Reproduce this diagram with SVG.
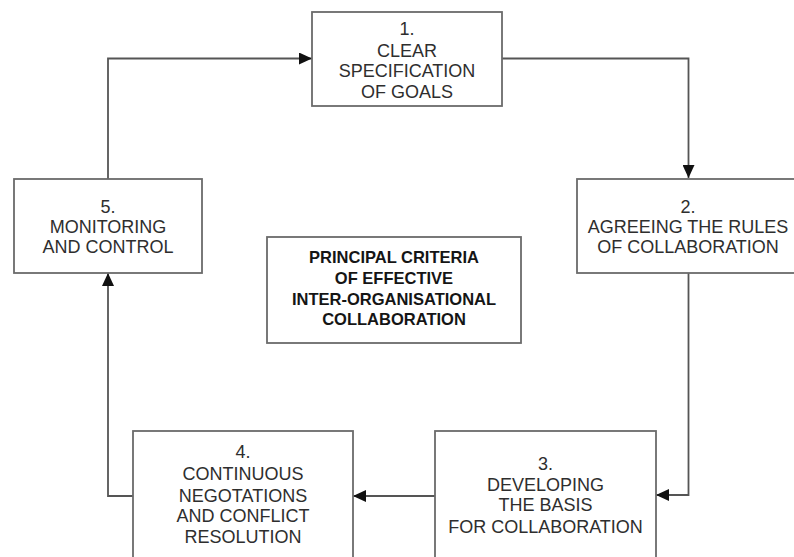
<svg xmlns="http://www.w3.org/2000/svg" width="794" height="557" viewBox="0 0 794 557">
<style>
.box{fill:#fff;stroke:#6b6b6b;stroke-width:1.8}
.t{font-family:"Liberation Sans",Arial,sans-serif;font-size:18px;fill:#2e2e2e;text-anchor:middle}
.b{font-family:"Liberation Sans",Arial,sans-serif;font-size:16.5px;font-weight:bold;fill:#151515;text-anchor:middle}
.c{fill:none;stroke:#555;stroke-width:1.8}
</style>
<defs>
<marker id="ah" markerWidth="13" markerHeight="12" refX="13" refY="6" orient="auto" markerUnits="userSpaceOnUse">
<path d="M0,0 L13,6 L0,12 Z" fill="#111"/>
</marker>
</defs>
<rect width="794" height="557" fill="#fff"/>
<g id="connectors">
<path class="c" d="M108,179 V58.5 H312" marker-end="url(#ah)"/>
<path class="c" d="M502,58.5 H688.5 V178" marker-end="url(#ah)"/>
<path class="c" d="M688.5,273 V495 H656" marker-end="url(#ah)"/>
<path class="c" d="M435,496 H353" marker-end="url(#ah)"/>
<path class="c" d="M133,496 H108 V273" marker-end="url(#ah)"/>
</g>
<g id="node1">
<rect class="box" x="312" y="12" width="190" height="94"/>
<text class="t" x="407" y="35">1.</text>
<text class="t" x="407" y="56.5">CLEAR</text>
<text class="t" x="407" y="77">SPECIFICATION</text>
<text class="t" x="407" y="97.5">OF GOALS</text>
</g>
<g id="node2">
<rect class="box" x="577" y="179" width="223" height="94"/>
<text class="t" x="688" y="212.5">2.</text>
<text class="t" x="688" y="232.5">AGREEING THE RULES</text>
<text class="t" x="688" y="252.5">OF COLLABORATION</text>
</g>
<g id="node3">
<rect class="box" x="435" y="431" width="221" height="140"/>
<text class="t" x="545.5" y="470">3.</text>
<text class="t" x="545.5" y="490.7">DEVELOPING</text>
<text class="t" x="545.5" y="511">THE BASIS</text>
<text class="t" x="545.5" y="532.7">FOR COLLABORATION</text>
</g>
<g id="node4">
<rect class="box" x="133" y="431" width="220" height="140"/>
<text class="t" x="243" y="458">4.</text>
<text class="t" x="243" y="480">CONTINUOUS</text>
<text class="t" x="243" y="501.5">NEGOTATIONS</text>
<text class="t" x="243" y="522">AND CONFLICT</text>
<text class="t" x="243" y="543.3">RESOLUTION</text>
</g>
<g id="node5">
<rect class="box" x="14" y="179" width="188" height="94"/>
<text class="t" x="108" y="212.7">5.</text>
<text class="t" x="108" y="233.3">MONITORING</text>
<text class="t" x="108" y="253.3">AND CONTROL</text>
</g>
<g id="center">
<rect class="box" x="267" y="237" width="254" height="106"/>
<text class="b" x="394" y="263.3">PRINCIPAL CRITERIA</text>
<text class="b" x="394" y="284">OF EFFECTIVE</text>
<text class="b" x="394" y="304.5">INTER-ORGANISATIONAL</text>
<text class="b" x="394" y="325">COLLABORATION</text>
</g>
</svg>
